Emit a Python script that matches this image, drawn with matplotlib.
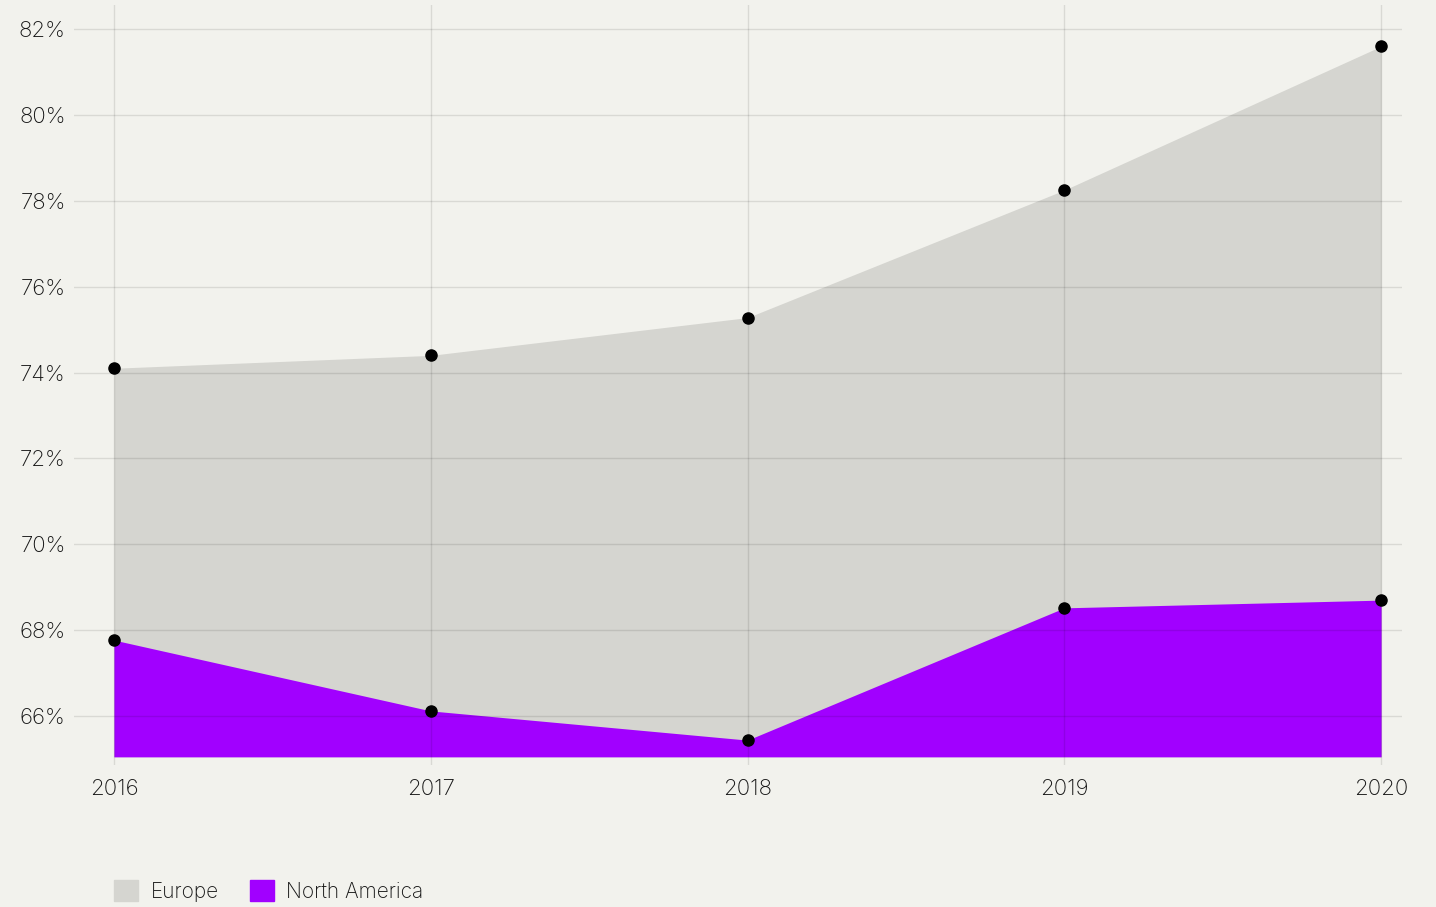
import matplotlib
matplotlib.use("Agg")
import matplotlib.pyplot as plt
from matplotlib.patches import Patch

years = [2016, 2017, 2018, 2019, 2020]
europe = [74.1, 74.4, 75.28, 78.25, 81.6]
north_america = [67.77, 66.12, 65.44, 68.52, 68.7]
yticks = [66, 68, 70, 72, 74, 76, 78, 80, 82]
baseline = 65.05

bg = "#f2f2ed"
c_eu = "#d5d5d0"
c_na = "#a100ff"
txt = "#151515"

plt.rcParams['font.family'] = ['Inter', 'DejaVu Sans']

fig = plt.figure(figsize=(14.36, 9.07), dpi=100, facecolor=bg)
ax = fig.add_axes([74/1436, 1 - 765/907, (1402-74)/1436, (765-5)/907])
ax.set_facecolor(bg)

ax.fill_between(years, baseline, europe, color=c_eu, lw=0, zorder=1)
ax.fill_between(years, baseline, north_america, color=c_na, lw=0, zorder=2)
ax.plot(years, europe, 'o', color='black', ms=8, zorder=5)
ax.plot(years, north_america, 'o', color='black', ms=8, zorder=5)

ax.set_xlim(2015.874, 2020.066)
ax.set_ylim(64.86, 82.56)
ax.set_xticks(years)
ax.set_xticklabels([str(y) for y in years])
ax.set_yticks(yticks)
ax.set_yticklabels([f"{v}%" for v in yticks])
ax.grid(True, color='black', lw=1, alpha=0.1, zorder=3)
ax.set_axisbelow(False)
for s in ax.spines.values():
    s.set_visible(False)
ax.tick_params(length=0, labelsize=16, labelcolor=txt)
ax.tick_params(axis='x', pad=10)
ax.tick_params(axis='y', pad=6)
for l in ax.get_xticklabels() + ax.get_yticklabels():
    l.set_fontweight('light')

handles = [Patch(color=c_eu, label='Europe'), Patch(color=c_na, label='North America')]
leg = fig.legend(handles=handles, loc='center left', bbox_to_anchor=(114/1436, 1 - 891/907),
                 ncol=2, frameon=False, fontsize=15, handlelength=1.15, handleheight=1.15,
                 handletextpad=0.6, columnspacing=1.5, borderpad=0, borderaxespad=0)
for t in leg.get_texts():
    t.set_color(txt)
    t.set_fontweight('light')

fig.savefig("out.png", dpi=100, facecolor=bg)
